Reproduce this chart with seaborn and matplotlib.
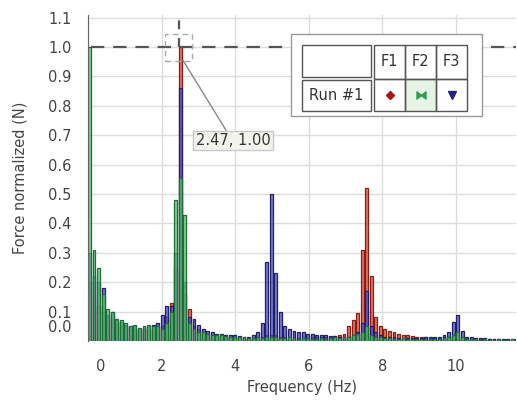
import numpy as np
import pandas as pd
import seaborn as sns
import matplotlib.pyplot as plt
import matplotlib.transforms as mtransforms
from matplotlib.colors import to_rgba
from matplotlib.patches import Rectangle
from matplotlib.path import Path

# spectrum bins (Hz)
freq_step = 0.1235
freqs = np.round(np.arange(95) * freq_step, 4)

# F1 (red)
f1 = [0.20, 0.15, 0.12, 0.10, 0.08, 0.07, 0.06, 0.05, 0.05, 0.04,
      0.04, 0.035, 0.04, 0.04, 0.035, 0.04, 0.05, 0.08, 0.13, 0.25,
      1.00, 0.155, 0.11, 0.05, 0.04, 0.03, 0.025, 0.02, 0.02, 0.018,
      0.015, 0.015, 0.012, 0.012, 0.01, 0.01, 0.01, 0.012, 0.015, 0.02,
      0.02, 0.02, 0.015, 0.012, 0.01, 0.01, 0.01, 0.01, 0.01, 0.012,
      0.012, 0.012, 0.015, 0.015, 0.018, 0.02, 0.025, 0.05, 0.07, 0.095,
      0.31, 0.52, 0.22, 0.08, 0.05, 0.04, 0.035, 0.03, 0.025, 0.02,
      0.02, 0.018, 0.015, 0.012, 0.012, 0.01, 0.01, 0.01, 0.012, 0.015,
      0.02, 0.02, 0.015, 0.01, 0.008, 0.008, 0.008, 0.006, 0.006, 0.006,
      0.006, 0.005, 0.005, 0.005, 0.005]

# F2 (green)
f2 = [1.00, 0.31, 0.25, 0.16, 0.11, 0.10, 0.075, 0.07, 0.06, 0.05,
      0.055, 0.045, 0.05, 0.055, 0.05, 0.05, 0.04, 0.06, 0.10, 0.48,
      0.555, 0.43, 0.06, 0.04, 0.03, 0.03, 0.025, 0.02, 0.02, 0.02,
      0.018, 0.015, 0.015, 0.012, 0.012, 0.01, 0.01, 0.012, 0.01, 0.012,
      0.015, 0.012, 0.01, 0.01, 0.012, 0.01, 0.008, 0.01, 0.01, 0.008,
      0.008, 0.01, 0.008, 0.01, 0.012, 0.01, 0.012, 0.015, 0.02, 0.025,
      0.03, 0.05, 0.02, 0.015, 0.012, 0.01, 0.01, 0.008, 0.008, 0.01,
      0.008, 0.008, 0.006, 0.006, 0.008, 0.006, 0.006, 0.008, 0.01, 0.012,
      0.02, 0.03, 0.012, 0.008, 0.006, 0.006, 0.005, 0.006, 0.005, 0.005,
      0.006, 0.005, 0.005, 0.006, 0.005]

# F3 (blue)
f3 = [0.30, 0.22, 0.20, 0.18, 0.09, 0.10, 0.07, 0.065, 0.055, 0.05,
      0.05, 0.04, 0.045, 0.05, 0.055, 0.06, 0.09, 0.12, 0.12, 0.30,
      0.86, 0.20, 0.08, 0.075, 0.055, 0.04, 0.035, 0.03, 0.025, 0.025,
      0.02, 0.02, 0.02, 0.018, 0.015, 0.015, 0.02, 0.03, 0.06, 0.27,
      0.50, 0.23, 0.10, 0.05, 0.04, 0.035, 0.03, 0.03, 0.025, 0.025,
      0.02, 0.02, 0.02, 0.018, 0.018, 0.015, 0.015, 0.015, 0.02, 0.03,
      0.06, 0.17, 0.05, 0.03, 0.02, 0.015, 0.012, 0.012, 0.01, 0.01,
      0.01, 0.01, 0.01, 0.01, 0.012, 0.012, 0.015, 0.015, 0.02, 0.03,
      0.065, 0.09, 0.035, 0.015, 0.012, 0.01, 0.01, 0.01, 0.008, 0.008,
      0.008, 0.008, 0.008, 0.008, 0.008]

y_ticks = [0.0, 0.1, 0.2, 0.3, 0.4, 0.5, 0.6, 0.7, 0.8, 0.9, 1.0, 1.1]
x_ticks = [0, 2, 4, 6, 8, 10]
peak_x, peak_y = 2.47, 1.00

df = pd.DataFrame({"freq": freqs, "F1": f1, "F2": f2, "F3": f3})

W, H = 517, 401
FS = 10.5
sns.set_style("white")
plt.rcParams["font.family"] = ["DejaVu Sans"]

fig = plt.figure(figsize=(W / 100, H / 100), dpi=100)
ax = fig.add_axes([88 / W, 1 - 341 / H, (516 - 88) / W, (341 - 15) / H])

# bars start at their frequency (left aligned), about 0.08 Hz wide
bar_w = 0.08
lead = bar_w / 2 - freq_step / 2
edges = list(np.append(freqs + lead, freqs[-1] + lead + freq_step))
series = [("F1", "#d44a3a", "#8a1c14"),
          ("F3", "#4f4fbf", "#1f1f6b"),
          ("F2", "#58c575", "#1c6e33")]
for name, fc, ec in series:
    sns.histplot(data=df, x="freq", weights=name, bins=edges, shrink=bar_w / freq_step,
                 color=fc, facecolor=to_rgba(fc, 0.75), edgecolor=ec,
                 linewidth=0.9, ax=ax)

ax.set_xlim(0, 11.63)
ax.set_ylim(0, 1.109)
ax.set_yticks(y_ticks)
ax.set_yticklabels([f"{v:.1f}" for v in y_ticks])
ax.set_xticks(x_ticks)
ax.set_xticklabels([str(v) for v in x_ticks])
ax.grid(True, color="#dddddd", linewidth=1)
ax.set_axisbelow(True)
for s in ["top", "right", "bottom"]:
    ax.spines[s].set_visible(False)
ax.spines["left"].set_color("#666666")
ax.tick_params(axis="y", length=7, color="#cccccc", labelsize=FS, labelcolor="#444444", pad=5)
ax.tick_params(axis="x", length=8, color="#dddddd", labelsize=FS, labelcolor="#444444", pad=5)
ax.set_xlabel("Frequency (Hz)", fontsize=FS, color="#444444", labelpad=4)
ax.set_ylabel("Force normalized (N)", fontsize=FS, color="#444444", labelpad=15)

# keep the first labels clear of the corner
ylab0 = ax.get_yticklabels()[0]
ylab0.set_transform(ylab0.get_transform() + mtransforms.ScaledTranslation(0, 0.15, fig.dpi_scale_trans))
xlab0 = ax.get_xticklabels()[0]
xlab0.set_transform(xlab0.get_transform() + mtransforms.ScaledTranslation(0.13, 0, fig.dpi_scale_trans))

# crosshair at the selected point
ax.axhline(peak_y, xmin=0.008, color="#555555", linestyle=(0, (6, 4)), linewidth=1.6, zorder=5)
ax.axvline(peak_x, ymin=peak_y / 1.109, ymax=1, color="#555555",
           linestyle=(0, (4, 4)), linewidth=1.6, zorder=5)
sel = Rectangle((-13.5, -13.5), 27, 27, fill=False, edgecolor="#aaaaaa",
                linestyle=(0, (4, 3)), linewidth=1,
                transform=mtransforms.Affine2D() + mtransforms.ScaledTranslation(peak_x, peak_y, ax.transData),
                zorder=6)
ax.add_artist(sel)
ax.annotate(f"{peak_x:.2f}, {peak_y:.2f}", xy=(peak_x + 0.11, peak_y - 0.045),
            xytext=(3.94, 0.682), ha="center", va="center", fontsize=FS, color="#333333",
            bbox=dict(boxstyle="square,pad=0.15", fc="#f4f4ef", ec="#c8c8c8", lw=1),
            arrowprops=dict(arrowstyle="-", color="#888888", lw=1, shrinkA=0, shrinkB=0,
                            relpos=(0.43, 1.0)), zorder=7)


# legend table drawn in pixel coordinates
def box(x0, y0, x1, y1, **kw):
    fig.add_artist(Rectangle((x0 / W, 1 - y1 / H), (x1 - x0) / W, (y1 - y0) / H,
                             transform=fig.transFigure, **kw))


def ftext(x, y, s):
    fig.text(x / W, 1 - y / H, s, ha="center", va="center", fontsize=FS, color="#333333")


def fmark(x, y, **kw):
    fig.add_artist(plt.Line2D([x / W], [1 - y / H], transform=fig.transFigure, linestyle="none", **kw))


box(291, 34, 482, 116, facecolor="white", edgecolor="#999999", lw=1)
box(302, 45, 371, 77, facecolor="white", edgecolor="#555555", lw=1)
box(302, 80, 371, 111, facecolor="white", edgecolor="#555555", lw=1)
box(405, 79, 436, 111, facecolor="#e6f4e6", edgecolor="none")
for cx0, cx1 in [(374, 405), (405, 436), (436, 467)]:
    box(cx0, 45, cx1, 79, facecolor="none", edgecolor="#555555", lw=1)
    box(cx0, 79, cx1, 111, facecolor="none", edgecolor="#555555", lw=1)
ftext(336.5, 95, "Run #1")
for cx, lab in zip([389.5, 420.5, 451.5], ["F1", "F2", "F3"]):
    ftext(cx, 61, lab)

bowtie = Path([(-1, -0.8), (0, 0), (-1, 0.8), (-1, -0.8), (1, -0.8), (0, 0), (1, 0.8), (1, -0.8)],
              [Path.MOVETO, Path.LINETO, Path.LINETO, Path.CLOSEPOLY,
               Path.MOVETO, Path.LINETO, Path.LINETO, Path.CLOSEPOLY])
fmark(389.5, 95, marker="D", ms=3.8, color="#a81616")
fmark(420.5, 95, marker=bowtie, ms=6.5, color="#2e9e4e")
fmark(451.5, 95, marker="v", ms=5.5, color="#25257d")

fig.savefig("out.png", dpi=100)
